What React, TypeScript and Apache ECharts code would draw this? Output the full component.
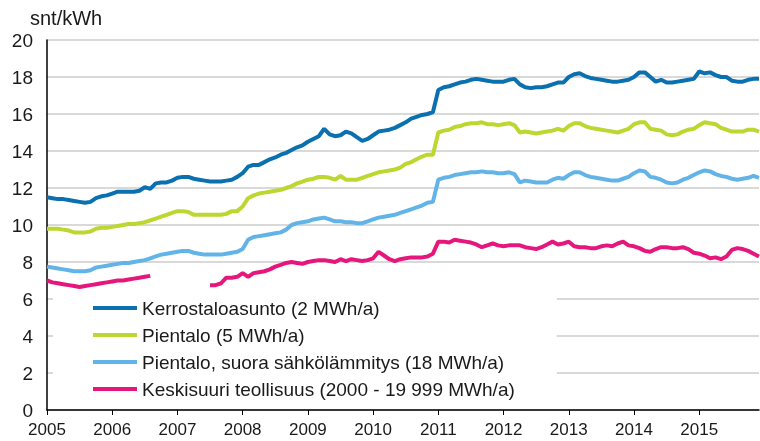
import React, { useEffect, useRef } from "react";
import * as echarts from "echarts";

const years = ["2005", "2006", "2007", "2008", "2009", "2010", "2011", "2012", "2013", "2014", "2015"];
const months = years.flatMap((y) =>
  Array.from({ length: 12 }, (_, m) => `${y}M${String(m + 1).padStart(2, "0")}`)
);

const seriesNames = [
  "Kerrostaloasunto (2 MWh/a)",
  "Pientalo (5 MWh/a)",
  "Pientalo, suora sähkölämmitys (18 MWh/a)",
  "Keskisuuri teollisuus (2000 - 19 999 MWh/a)",
];

const kerrostalo = [
  11.5, 11.45, 11.4, 11.4, 11.35, 11.3, 11.25, 11.2, 11.25, 11.45, 11.55, 11.6,
  11.7, 11.8, 11.8, 11.8, 11.8, 11.85, 12.05, 11.95, 12.25, 12.3, 12.3, 12.4,
  12.55, 12.6, 12.6, 12.5, 12.45, 12.4, 12.35, 12.35, 12.35, 12.4, 12.45, 12.6,
  12.8, 13.15, 13.25, 13.25, 13.4, 13.55, 13.65, 13.8, 13.9, 14.05, 14.2, 14.3,
  14.5, 14.65, 14.8, 15.2, 14.9, 14.8, 14.85, 15.05, 14.95, 14.75, 14.55, 14.65,
  14.85, 15.05, 15.1, 15.15, 15.25, 15.4, 15.55, 15.75, 15.85, 15.95, 16.0, 16.1,
  17.3, 17.45, 17.5, 17.6, 17.7, 17.75, 17.85, 17.9, 17.85, 17.8, 17.75, 17.75,
  17.75, 17.85, 17.9, 17.6, 17.45, 17.4, 17.45, 17.45, 17.5, 17.6, 17.7, 17.7,
  18.0, 18.15, 18.2, 18.05, 17.95, 17.9, 17.85, 17.8, 17.75, 17.75, 17.8, 17.85,
  18.0, 18.25, 18.25, 18.0, 17.75, 17.85, 17.7, 17.7, 17.75, 17.8, 17.85, 17.9,
  18.3, 18.2, 18.25, 18.1, 18.0, 18.0, 17.8, 17.75, 17.75, 17.85, 17.9, 17.9,
];

const pientalo = [
  9.8, 9.8, 9.8, 9.75, 9.7, 9.6, 9.6, 9.6, 9.65, 9.8, 9.85, 9.85,
  9.9, 9.95, 10.0, 10.05, 10.05, 10.1, 10.15, 10.25, 10.35, 10.45, 10.55, 10.65,
  10.75, 10.75, 10.7, 10.55, 10.55, 10.55, 10.55, 10.55, 10.55, 10.6, 10.75, 10.75,
  11.0, 11.45, 11.6, 11.7, 11.75, 11.8, 11.85, 11.9, 12.0, 12.1, 12.25, 12.35,
  12.45, 12.5, 12.6, 12.6, 12.55, 12.45, 12.65, 12.45, 12.45, 12.45, 12.55, 12.65,
  12.75, 12.85, 12.9, 12.95, 13.0, 13.1, 13.3, 13.4, 13.55, 13.7, 13.8, 13.8,
  15.0, 15.1, 15.15, 15.3, 15.35, 15.45, 15.5, 15.5, 15.55, 15.45, 15.45, 15.4,
  15.45, 15.5, 15.4, 15.0, 15.05, 15.0, 14.95, 15.0, 15.05, 15.1, 15.2, 15.1,
  15.35, 15.5, 15.5, 15.35, 15.25, 15.2, 15.15, 15.1, 15.05, 15.0, 15.1, 15.2,
  15.45, 15.55, 15.55, 15.2, 15.15, 15.1, 14.9, 14.85, 14.9, 15.05, 15.15, 15.2,
  15.4, 15.55, 15.5, 15.45, 15.25, 15.15, 15.05, 15.05, 15.05, 15.15, 15.15, 15.05,
];

const suora = [
  7.75, 7.7, 7.65, 7.6, 7.55, 7.5, 7.5, 7.5, 7.55, 7.7, 7.75, 7.8,
  7.85, 7.9, 7.95, 7.95, 8.0, 8.05, 8.1, 8.2, 8.3, 8.4, 8.45, 8.5,
  8.55, 8.6, 8.6, 8.5, 8.45, 8.4, 8.4, 8.4, 8.4, 8.45, 8.5, 8.55,
  8.7, 9.2, 9.35, 9.4, 9.45, 9.5, 9.55, 9.6, 9.75, 10.0, 10.1, 10.15,
  10.2, 10.3, 10.35, 10.4, 10.3, 10.2, 10.2, 10.15, 10.15, 10.1, 10.1, 10.2,
  10.3, 10.4, 10.45, 10.5, 10.55, 10.65, 10.75, 10.85, 10.95, 11.05, 11.2, 11.25,
  12.45, 12.55, 12.6, 12.7, 12.75, 12.8, 12.85, 12.85, 12.9, 12.85, 12.85, 12.8,
  12.8, 12.85, 12.75, 12.3, 12.4, 12.35, 12.3, 12.3, 12.3, 12.45, 12.55, 12.5,
  12.7, 12.85, 12.85, 12.7, 12.6, 12.55, 12.5, 12.45, 12.4, 12.4, 12.5, 12.6,
  12.8, 12.95, 12.9, 12.6, 12.55, 12.45, 12.3, 12.25, 12.3, 12.45, 12.55, 12.7,
  12.85, 12.95, 12.9, 12.75, 12.65, 12.6, 12.5, 12.45, 12.5, 12.55, 12.65, 12.55,
];

const teollisuus = [
  7.0, 6.9, 6.85, 6.8, 6.75, 6.7, 6.65, 6.7, 6.75, 6.8, 6.85, 6.9,
  6.95, 7.0, 7.0, 7.05, 7.1, 7.15, 7.2, 7.25, null, null, null, null,
  null, null, null, null, null, null, 6.75, 6.75, 6.85, 7.15, 7.15, 7.2,
  7.4, 7.2, 7.4, 7.45, 7.5, 7.6, 7.75, 7.85, 7.95, 8.0, 7.95, 7.9,
  8.0, 8.05, 8.1, 8.1, 8.05, 8.0, 8.15, 8.05, 8.15, 8.1, 8.05, 8.1,
  8.2, 8.55, 8.35, 8.15, 8.05, 8.15, 8.2, 8.25, 8.25, 8.25, 8.3, 8.45,
  9.1, 9.1, 9.05, 9.2, 9.15, 9.1, 9.05, 8.95, 8.8, 8.9, 9.0, 8.9,
  8.85, 8.9, 8.9, 8.9, 8.8, 8.75, 8.7, 8.8, 8.95, 9.1, 8.95, 9.0,
  9.1, 8.85, 8.8, 8.8, 8.75, 8.75, 8.85, 8.9, 8.85, 9.0, 9.1, 8.9,
  8.85, 8.75, 8.6, 8.55, 8.7, 8.8, 8.8, 8.75, 8.75, 8.8, 8.7, 8.5,
  8.45, 8.35, 8.2, 8.25, 8.15, 8.3, 8.65, 8.75, 8.7, 8.6, 8.45, 8.3,
];

const colors = ["#0a70b0", "#bed630", "#62b4e8", "#e5177c"];
const FONT = "'Liberation Sans', Arial, sans-serif";

export default function App() {
  const ref = useRef<HTMLDivElement>(null);
  useEffect(() => {
    if (!ref.current) return;
    const chart = echarts.init(ref.current, null, { renderer: "svg" });
    const values = [kerrostalo, pientalo, suora, teollisuus];
    chart.setOption({
      animation: false,
      color: colors,
      textStyle: { fontFamily: FONT },
      grid: { left: 47, right: 1, top: 40, bottom: 31, containLabel: false },
      graphic: [
        {
          type: "text",
          x: 30,
          y: 18,
          style: {
            text: "snt/kWh",
            fontSize: 20,
            fontFamily: FONT,
            fill: "#1a1a1a",
            verticalAlign: "middle",
            align: "left",
          },
        },
      ],
      legend: {
        orient: "vertical",
        left: 53,
        top: 292,
        padding: [5, 42, 3, 40],
        backgroundColor: "#ffffff",
        icon: "rect",
        itemWidth: 44,
        itemHeight: 4,
        itemGap: 5,
        selectedMode: false,
        data: seriesNames,
        textStyle: { fontSize: 19, color: "#1a1a1a", fontFamily: FONT, lineHeight: 22 },
      },
      xAxis: {
        type: "category",
        data: months,
        boundaryGap: false,
        axisLine: { show: true, lineStyle: { color: "#000", width: 1.5 } },
        axisTick: {
          show: true,
          length: 5,
          interval: (i: number) => i % 12 === 0,
          lineStyle: { color: "#000" },
        },
        axisLabel: {
          interval: (i: number) => i % 12 === 0,
          formatter: (v: string) => v.slice(0, 4),
          fontSize: 17,
          color: "#1a1a1a",
          margin: 11,
          fontFamily: FONT,
        },
        splitLine: { show: false },
      },
      yAxis: {
        type: "value",
        min: 0,
        max: 20,
        interval: 2,
        axisLine: { show: true, lineStyle: { color: "#000", width: 1.5 } },
        axisTick: { show: false },
        axisLabel: { fontSize: 19, color: "#1a1a1a", margin: 14, fontFamily: FONT },
        splitLine: { show: true, lineStyle: { color: "#cccccc", width: 1.5 } },
      },
      series: seriesNames.map((name, k) => ({
        name,
        type: "line",
        data: values[k],
        showSymbol: false,
        symbol: "none",
        connectNulls: false,
        lineStyle: { width: 4, color: colors[k] },
        itemStyle: { color: colors[k] },
      })),
    });
    return () => chart.dispose();
  }, []);
  return (
    <div
      ref={ref}
      style={{ position: "fixed", left: 0, top: 0, width: 760, height: 441 }}
    />
  );
}
